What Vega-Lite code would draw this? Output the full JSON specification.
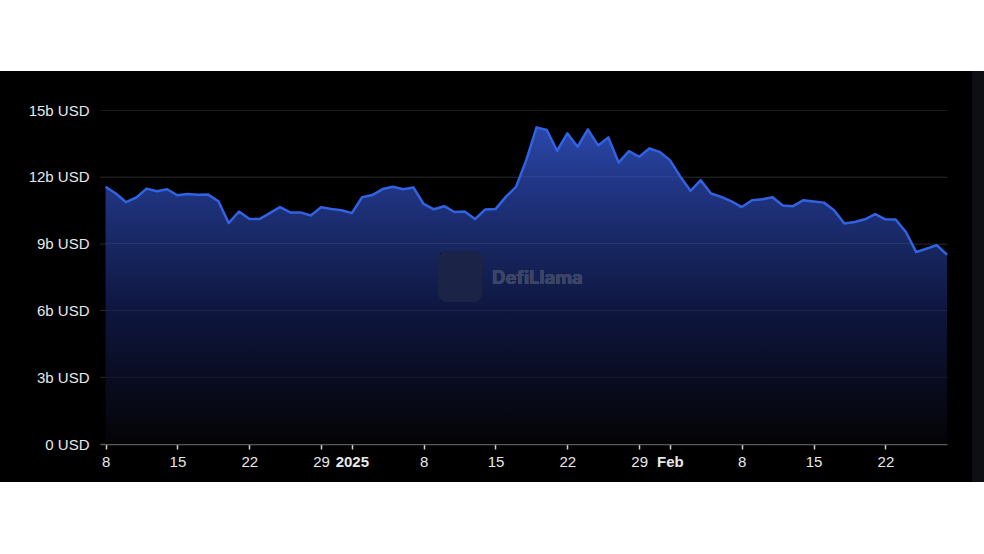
{
  "$schema": "https://vega.github.io/schema/vega-lite/v6.json",
  "width": 847,
  "height": 334,
  "autosize": {"type": "none"},
  "padding": {"left": 100, "top": 110, "right": 37, "bottom": 110},
  "background": "#000000",
  "config": {
    "view": {"stroke": null},
    "axis": {
      "title": null,
      "zindex": 1,
      "labelFont": "Liberation Sans",
      "labelFontSize": 15,
      "labelColor": "#e8e8e8"
    },
    "axisX": {
      "grid": false,
      "labelPadding": 5,
      "labelOverlap": false,
      "labelFlush": false,
      "domainColor": "#5a5a5a",
      "domainWidth": 1.5,
      "tickColor": "#d0d0d0",
      "tickSize": 5,
      "tickWidth": 1.5
    },
    "axisY": {
      "labelPadding": 11,
      "domain": false,
      "ticks": false,
      "grid": true,
      "gridColor": "#1b1b1f",
      "gridWidth": 1
    }
  },
  "datasets": {
    "tvl": [
      {"date": "2024/12/08", "v": 11.55},
      {"date": "2024/12/09", "v": 11.25},
      {"date": "2024/12/10", "v": 10.86},
      {"date": "2024/12/11", "v": 11.07},
      {"date": "2024/12/12", "v": 11.47},
      {"date": "2024/12/13", "v": 11.35},
      {"date": "2024/12/14", "v": 11.44},
      {"date": "2024/12/15", "v": 11.17},
      {"date": "2024/12/16", "v": 11.23},
      {"date": "2024/12/17", "v": 11.19},
      {"date": "2024/12/18", "v": 11.2},
      {"date": "2024/12/19", "v": 10.9},
      {"date": "2024/12/20", "v": 9.92},
      {"date": "2024/12/21", "v": 10.44},
      {"date": "2024/12/22", "v": 10.12},
      {"date": "2024/12/23", "v": 10.1},
      {"date": "2024/12/24", "v": 10.37},
      {"date": "2024/12/25", "v": 10.64},
      {"date": "2024/12/26", "v": 10.4},
      {"date": "2024/12/27", "v": 10.4},
      {"date": "2024/12/28", "v": 10.26},
      {"date": "2024/12/29", "v": 10.63},
      {"date": "2024/12/30", "v": 10.55},
      {"date": "2024/12/31", "v": 10.5},
      {"date": "2025/01/01", "v": 10.37},
      {"date": "2025/01/02", "v": 11.08},
      {"date": "2025/01/03", "v": 11.18},
      {"date": "2025/01/04", "v": 11.45},
      {"date": "2025/01/05", "v": 11.55},
      {"date": "2025/01/06", "v": 11.44},
      {"date": "2025/01/07", "v": 11.52},
      {"date": "2025/01/08", "v": 10.78},
      {"date": "2025/01/09", "v": 10.54},
      {"date": "2025/01/10", "v": 10.68},
      {"date": "2025/01/11", "v": 10.42},
      {"date": "2025/01/12", "v": 10.44},
      {"date": "2025/01/13", "v": 10.1},
      {"date": "2025/01/14", "v": 10.53},
      {"date": "2025/01/15", "v": 10.55},
      {"date": "2025/01/16", "v": 11.1},
      {"date": "2025/01/17", "v": 11.55},
      {"date": "2025/01/18", "v": 12.75},
      {"date": "2025/01/19", "v": 14.22},
      {"date": "2025/01/20", "v": 14.1},
      {"date": "2025/01/21", "v": 13.17},
      {"date": "2025/01/22", "v": 13.95},
      {"date": "2025/01/23", "v": 13.35},
      {"date": "2025/01/24", "v": 14.13},
      {"date": "2025/01/25", "v": 13.41},
      {"date": "2025/01/26", "v": 13.77},
      {"date": "2025/01/27", "v": 12.64},
      {"date": "2025/01/28", "v": 13.15},
      {"date": "2025/01/29", "v": 12.9},
      {"date": "2025/01/30", "v": 13.27},
      {"date": "2025/01/31", "v": 13.12},
      {"date": "2025/02/01", "v": 12.75},
      {"date": "2025/02/02", "v": 12.02},
      {"date": "2025/02/03", "v": 11.37},
      {"date": "2025/02/04", "v": 11.85},
      {"date": "2025/02/05", "v": 11.25},
      {"date": "2025/02/06", "v": 11.1},
      {"date": "2025/02/07", "v": 10.9},
      {"date": "2025/02/08", "v": 10.64},
      {"date": "2025/02/09", "v": 10.95},
      {"date": "2025/02/10", "v": 10.99},
      {"date": "2025/02/11", "v": 11.08},
      {"date": "2025/02/12", "v": 10.71},
      {"date": "2025/02/13", "v": 10.68},
      {"date": "2025/02/14", "v": 10.95},
      {"date": "2025/02/15", "v": 10.89},
      {"date": "2025/02/16", "v": 10.84},
      {"date": "2025/02/17", "v": 10.5},
      {"date": "2025/02/18", "v": 9.9},
      {"date": "2025/02/19", "v": 9.97},
      {"date": "2025/02/20", "v": 10.09},
      {"date": "2025/02/21", "v": 10.32},
      {"date": "2025/02/22", "v": 10.09},
      {"date": "2025/02/23", "v": 10.08},
      {"date": "2025/02/24", "v": 9.52},
      {"date": "2025/02/25", "v": 8.62},
      {"date": "2025/02/26", "v": 8.77},
      {"date": "2025/02/27", "v": 8.93},
      {"date": "2025/02/28", "v": 8.5}
    ],
    "grid": [{"g": 3}, {"g": 6}, {"g": 9}, {"g": 12}]
  },
  "data": {"name": "tvl"},
  "layer": [
    {
      "mark": {
        "type": "area",
        "line": false,
        "color": {
          "gradient": "linear",
          "x1": 0, "y1": 1, "x2": 0, "y2": 0,
          "stops": [
            {"offset": 0, "color": "#040406"},
            {"offset": 0.21, "color": "#090c20"},
            {"offset": 0.42, "color": "#0e163f"},
            {"offset": 0.63, "color": "#182762"},
            {"offset": 0.84, "color": "#213788"},
            {"offset": 1, "color": "#2a48aa"}
          ]
        }
      },
      "encoding": {
        "x": {
          "field": "date", "type": "temporal",
          "scale": {"domain": [{"year": 2024, "month": "dec", "date": 7, "hours": 11}, {"year": 2025, "month": "feb", "date": 28}]},
          "axis": {
            "values": [
              {"year": 2024, "month": "dec", "date": 8},
              {"year": 2024, "month": "dec", "date": 15},
              {"year": 2024, "month": "dec", "date": 22},
              {"year": 2024, "month": "dec", "date": 29},
              {"year": 2025, "month": "jan", "date": 1},
              {"year": 2025, "month": "jan", "date": 8},
              {"year": 2025, "month": "jan", "date": 15},
              {"year": 2025, "month": "jan", "date": 22},
              {"year": 2025, "month": "jan", "date": 29},
              {"year": 2025, "month": "feb", "date": 1},
              {"year": 2025, "month": "feb", "date": 8},
              {"year": 2025, "month": "feb", "date": 15},
              {"year": 2025, "month": "feb", "date": 22}
            ],
            "labelExpr": "date(datum.value) == 1 ? (month(datum.value) == 0 ? timeFormat(datum.value, '%Y') : timeFormat(datum.value, '%b')) : timeFormat(datum.value, '%-d')",
            "labelFontWeight": {"condition": {"test": "date(datum.value) == 1", "value": "bold"}, "value": "normal"}
          }
        },
        "y": {
          "field": "v", "type": "quantitative",
          "scale": {"domain": [0, 15], "nice": false, "zero": true},
          "axis": {
            "values": [0, 3, 6, 9, 12, 15],
            "labelExpr": "datum.value == 0 ? '0 USD' : datum.value + 'b USD'"
          }
        }
      }
    },
    {
      "data": {"name": "grid"},
      "mark": {"type": "rule", "stroke": "#ffffff", "strokeOpacity": 0.07, "strokeWidth": 1},
      "encoding": {
        "x": {"datum": {"year": 2024, "month": "dec", "date": 7, "hours": 11}, "type": "temporal", "scale": {"domain": [{"year": 2024, "month": "dec", "date": 7, "hours": 11}, {"year": 2025, "month": "feb", "date": 28}]}},
        "x2": {"datum": {"year": 2025, "month": "feb", "date": 28}},
        "y": {"field": "g", "type": "quantitative", "scale": {"domain": [0, 15], "nice": false, "zero": true}}
      }
    },
    {
      "mark": {"type": "line", "stroke": "#3162e2", "strokeWidth": 2.5, "strokeJoin": "round"},
      "encoding": {
        "x": {"field": "date", "type": "temporal", "scale": {"domain": [{"year": 2024, "month": "dec", "date": 7, "hours": 11}, {"year": 2025, "month": "feb", "date": 28}]}},
        "y": {"field": "v", "type": "quantitative", "scale": {"domain": [0, 15], "nice": false, "zero": true}}
      }
    },
    {
      "mark": {"type": "rect", "fill": "#ffffff", "clip": false},
      "encoding": {
        "x": {"datum": {"year": 2024, "month": "nov", "date": 1}, "type": "temporal", "scale": {"domain": [{"year": 2024, "month": "dec", "date": 7, "hours": 11}, {"year": 2025, "month": "feb", "date": 28}]}},
        "x2": {"datum": {"year": 2025, "month": "mar", "date": 31}},
        "y": {"datum": 16.75, "type": "quantitative", "scale": {"domain": [0, 15], "nice": false, "zero": true}},
        "y2": {"datum": 30}
      }
    },
    {
      "mark": {"type": "rect", "fill": "#ffffff", "clip": false},
      "encoding": {
        "x": {"datum": {"year": 2024, "month": "nov", "date": 1}, "type": "temporal", "scale": {"domain": [{"year": 2024, "month": "dec", "date": 7, "hours": 11}, {"year": 2025, "month": "feb", "date": 28}]}},
        "x2": {"datum": {"year": 2025, "month": "mar", "date": 31}},
        "y": {"datum": -1.71, "type": "quantitative", "scale": {"domain": [0, 15], "nice": false, "zero": true}},
        "y2": {"datum": -15}
      }
    },
    {
      "mark": {"type": "rect", "fill": "#0e0f12", "clip": false},
      "encoding": {
        "x": {"datum": {"year": 2025, "month": "mar", "date": 2, "hours": 11, "minutes": 30}, "type": "temporal", "scale": {"domain": [{"year": 2024, "month": "dec", "date": 7, "hours": 11}, {"year": 2025, "month": "feb", "date": 28}]}},
        "x2": {"datum": {"year": 2025, "month": "mar", "date": 5}},
        "y": {"datum": 16.75, "type": "quantitative", "scale": {"domain": [0, 15], "nice": false, "zero": true}},
        "y2": {"datum": -1.71}
      }
    },
    {
      "mark": {"type": "rect", "fill": "#1b2446", "cornerRadius": 9, "clip": false},
      "encoding": {
        "x": {"datum": {"year": 2025, "month": "jan", "date": 9, "hours": 10}, "type": "temporal", "scale": {"domain": [{"year": 2024, "month": "dec", "date": 7, "hours": 11}, {"year": 2025, "month": "feb", "date": 28}]}},
        "x2": {"datum": {"year": 2025, "month": "jan", "date": 13, "hours": 17}},
        "y": {"datum": 8.64, "type": "quantitative", "scale": {"domain": [0, 15], "nice": false, "zero": true}},
        "y2": {"datum": 6.39}
      }
    },
    {
      "mark": {"type": "text", "text": "DefiLlama", "font": "Inter", "fontWeight": "bold", "fontSize": 18.5, "fill": "#3b4566", "align": "left", "baseline": "middle"},
      "encoding": {
        "x": {"datum": {"year": 2025, "month": "jan", "date": 14, "hours": 16}, "type": "temporal", "scale": {"domain": [{"year": 2024, "month": "dec", "date": 7, "hours": 11}, {"year": 2025, "month": "feb", "date": 28}]}},
        "y": {"datum": 7.47, "type": "quantitative", "scale": {"domain": [0, 15], "nice": false, "zero": true}}
      }
    }
  ]
}
